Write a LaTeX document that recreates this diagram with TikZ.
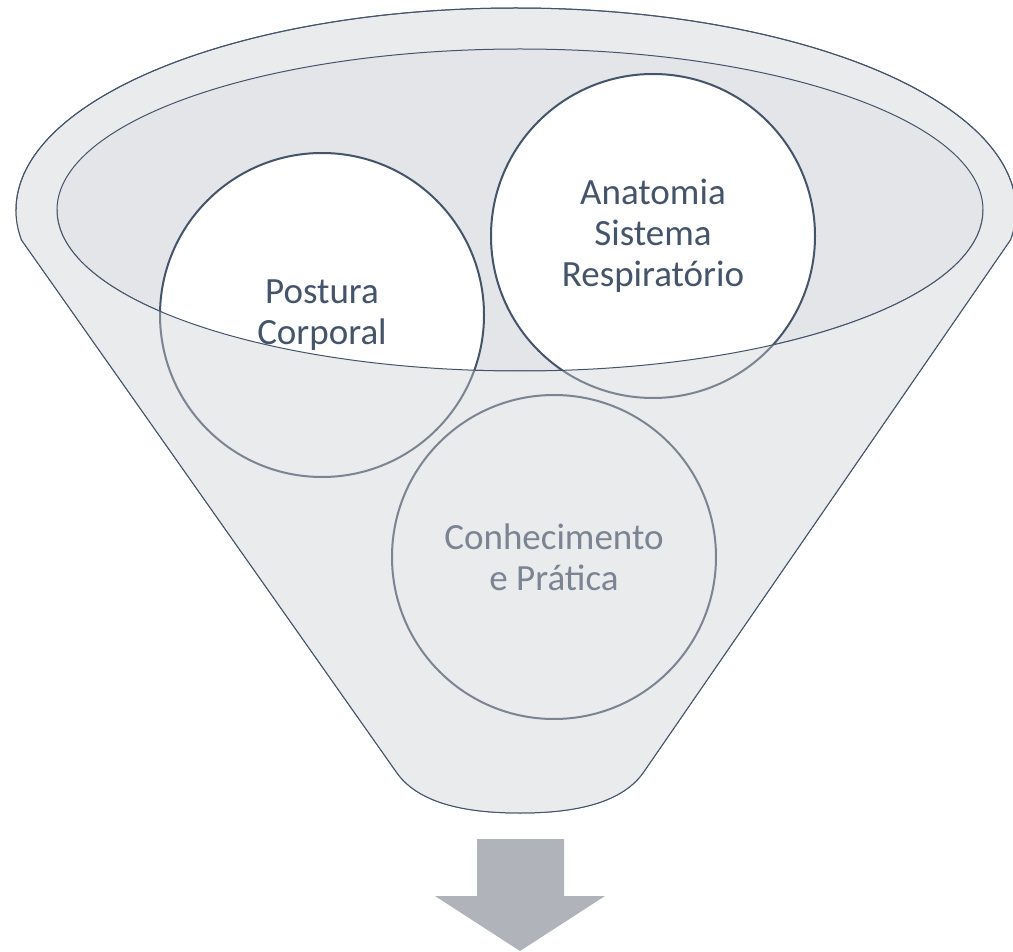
\documentclass[tikz,border=0pt]{standalone}
\usepackage{fontspec}
\setmainfont{Carlito}
\usetikzlibrary{positioning}
\definecolor{funnelgray}{RGB}{234,235,237}
\definecolor{rimgray}{RGB}{228,229,232}
\definecolor{slateblue}{RGB}{68,84,106}
\definecolor{fadedslate}{RGB}{122,132,146}
\definecolor{arrowgray}{RGB}{176,179,186}

\begin{document}
\begin{tikzpicture}[x=1pt, y=-1pt, line cap=round, line join=round]
		\useasboundingbox (0,0) rectangle (1013,952);
		\tikzset{bubbletext/.style={align=center, inner sep=0pt, font=\fontsize{37}{41}\selectfont, text=slateblue}}
		% funnel corners and circle centres
		\coordinate (BL) at (397,773);
		\coordinate (BR) at (643,773);
		\coordinate (B) at (520,813);
		\coordinate (postura) at (322,315);
		\coordinate (anatomia) at (653,236);
		\coordinate (pratica) at (554,557);
		\def\bottomcurve{-- (BR) .. controls (620,805) and (570,813) .. (B) .. controls (470,813) and (420,805) .. (BL) -- (21.5,240)}
		
		% funnel body
		\draw [slateblue,fill=funnelgray,line width=1pt] (16,210) arc[start angle=180, end angle=368.5, x radius=500, y radius=202] \bottomcurve arc[start angle=171.5, end angle=180, x radius=500, y radius=202] -- cycle;
		\draw [slateblue,fill=rimgray,line width=1pt] (520,210) ellipse[x radius=463, y radius=161];
		
		% circles behind the rim
		\draw [slateblue,fill=white,line width=2pt] (postura) circle[radius=162];
		\draw [slateblue,fill=white,line width=2pt] (anatomia) circle[radius=162];
		
		% front of the funnel
		\begin{scope}
			\path [clip] (57,210) arc[start angle=180, end angle=0, x radius=463, y radius=161] -- (1016,210) arc[start angle=0, end angle=8.5, x radius=500, y radius=202] \bottomcurve arc[start angle=171.5, end angle=180, x radius=500, y radius=202] -- cycle;
			\fill [funnelgray] (0,0) rectangle (1013,952);
			\draw [fadedslate,line width=2pt] (postura) circle[radius=162];
			\draw [fadedslate,line width=2pt] (anatomia) circle[radius=162];
		\end{scope}
		\draw [fadedslate,line width=2pt] (pratica) circle[radius=162];
		\draw [slateblue,line width=1pt] (57,210) arc[start angle=180, end angle=0, x radius=463, y radius=161];
		\draw [slateblue,line width=1pt] (16,210) arc[start angle=180, end angle=368.5, x radius=500, y radius=202] \bottomcurve arc[start angle=171.5, end angle=180, x radius=500, y radius=202] -- cycle;
		
		% labels
		\node [bubbletext] (posturalabel) at (postura) {Postura\\Corporal};
		\node [bubbletext] (anatomialabel) at (anatomia) {Anatomia\\Sistema\\Respiratório};
		\node [bubbletext,text=fadedslate] (praticalabel) at (pratica) {Conhecimento\\e Prática};
		
		% arrow below the funnel
		\fill [arrowgray] (477,839) -- (564,839) -- (564,896) -- (605,896) -- (520,951) -- (435,896) -- (477,896) -- cycle;
		
\end{tikzpicture}
\end{document}
